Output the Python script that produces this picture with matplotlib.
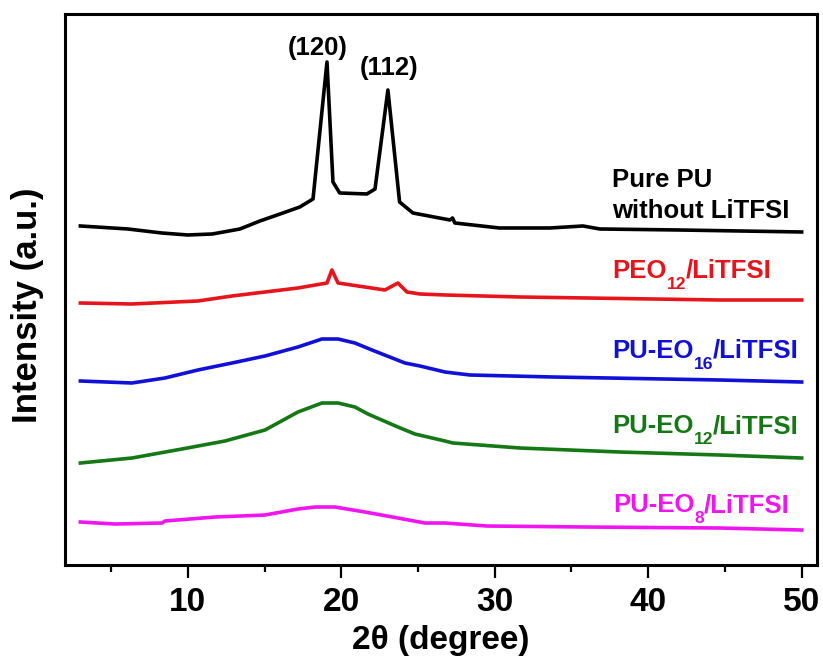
import numpy as np
import matplotlib
matplotlib.use('Agg')
import matplotlib.pyplot as plt
from matplotlib.transforms import offset_copy

plt.rcParams['font.family'] = ['Liberation Sans', 'DejaVu Sans']
plt.rcParams['font.weight'] = 'bold'

# XRD 曲线数据 (2θ, 强度，已带偏移)
pu_x = [3.0, 6.1, 8.3, 10.0, 11.6, 13.4, 14.7, 16.2, 17.3, 18.16, 19.07, 19.46, 19.9,
        21.67, 22.2, 23.04, 23.8, 24.67, 27.08, 27.25, 27.4, 30.3, 33.6, 35.75, 36.85, 42.0, 50.0]
pu_y = [339, 336, 332, 330, 331, 336, 344, 352, 358, 366, 503, 383, 372,
        371, 376, 475, 363, 352, 345, 347, 342, 337, 337, 339, 336, 335, 333]

peo_x = [3.0, 6.36, 10.66, 12.88, 17.18, 19.07, 19.39, 19.79, 21.09, 22.85, 23.69, 24.28,
         25.13, 26.76, 31.64, 44.67, 50.0]
peo_y = [262, 261, 264, 269, 277, 282, 295, 282, 279, 275, 282, 273,
         271, 270, 268, 265, 265]

eo16_x = [3.0, 6.36, 8.51, 10.66, 12.88, 15.03, 17.18, 18.74, 19.79, 20.89, 22.0, 24.15,
          25.13, 26.76, 28.38, 33.79, 44.67, 50.0]
eo16_y = [184, 182, 187, 195, 202, 209, 218, 226, 226, 222, 215, 202,
          199, 193, 190, 188, 185, 183]

eo12_x = [3.0, 6.36, 9.62, 12.42, 15.03, 17.18, 18.74, 19.79, 20.89, 21.74, 23.69, 24.8,
          26.76, 27.28, 31.64, 38.16, 44.67, 50.0]
eo12_y = [102, 107, 116, 124, 135, 153, 162, 162, 158, 151, 138, 131,
          124, 122, 117, 113, 110, 107]

eo8_x = [3.0, 5.26, 8.32, 8.51, 11.77, 15.03, 17.18, 18.29, 19.59, 21.54, 23.69, 25.45,
         26.76, 29.49, 36.0, 44.67, 50.0]
eo8_y = [43, 41, 42, 44, 48, 50, 56, 58, 58, 53, 47, 42,
         42, 39, 38, 37, 35]

fig = plt.figure(figsize=(8.23, 6.62), dpi=100)
ax = fig.add_axes([0.079, 0.1465, 0.9137, 0.8324])
renderer = fig.canvas.get_renderer()


# 带下标的标签: 逐段放置，下标比基线低
def sub_label(x, y, parts, color, size=18.5):
    dx = 0.0
    for s, is_sub in parts:
        fs = size * 0.68 if is_sub else size
        dy = -size * 0.42 if is_sub else 0.0
        tr = offset_copy(ax.transData, fig=fig, x=dx, y=dy, units='points')
        t = ax.text(x, y, s, fontsize=fs, fontweight='bold', color=color,
                    va='baseline', ha='left', transform=tr)
        w = t.get_window_extent(renderer).width * 72.0 / fig.dpi
        dx += w


ax.plot(pu_x, pu_y, color='black', lw=2.6)
ax.plot(peo_x, peo_y, color='#e8141c', lw=2.6)
ax.plot(eo16_x, eo16_y, color='#1010d8', lw=2.6)
ax.plot(eo12_x, eo12_y, color='#147814', lw=2.6)
ax.plot(eo8_x, eo8_y, color='#f014f0', lw=2.6)

# 峰标注
ax.text(18.48, 510, '(120)', fontsize=18.5, fontweight='bold', ha='center', va='baseline')
ax.text(23.1, 490, '(112)', fontsize=18.5, fontweight='bold', ha='center', va='baseline')

# 曲线标签
ax.text(37.64, 378, 'Pure PU', fontsize=18.5, fontweight='bold', color='black', va='baseline')
ax.text(37.64, 347, 'without LiTFSI', fontsize=18.5, fontweight='bold', color='black', va='baseline')
sub_label(37.64, 287, [('PEO', False), ('12', True), ('/LiTFSI', False)], '#e8141c')
sub_label(37.64, 207, [('PU-EO', False), ('16', True), ('/LiTFSI', False)], '#1010d8')
sub_label(37.64, 132, [('PU-EO', False), ('12', True), ('/LiTFSI', False)], '#147814')
sub_label(37.7, 53, [('PU-EO', False), ('8', True), ('/LiTFSI', False)], '#f014f0')

ax.set_xlim(2, 51)
ax.set_ylim(0, 551)
ax.set_xticks([10, 20, 30, 40, 50])
ax.set_xticks([5, 15, 25, 35, 45], minor=True)
ax.set_yticks([])
ax.tick_params(axis='x', which='major', direction='out', length=9, width=1.6,
               labelsize=24, pad=7)
ax.tick_params(axis='x', which='minor', direction='out', length=5, width=1.6)
for lab in ax.get_xticklabels():
    lab.set_fontweight('bold')
for sp in ax.spines.values():
    sp.set_linewidth(2.2)

ax.set_xlabel('2θ (degree)', fontsize=24, fontweight='bold', labelpad=5)
ax.set_ylabel('Intensity (a.u.)', fontsize=25, fontweight='bold')
ax.yaxis.set_label_coords(-0.028, 0.472)

fig.savefig('out.png', dpi=100)
